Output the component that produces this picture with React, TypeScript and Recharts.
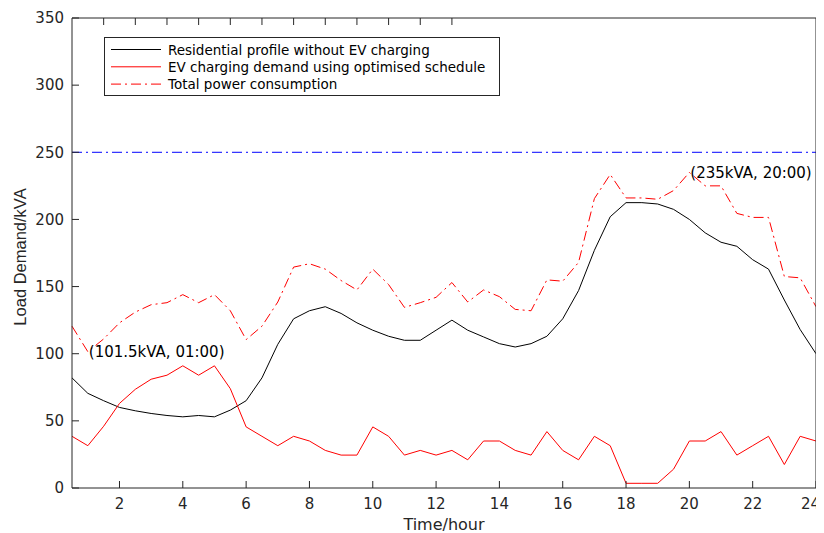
import React from "react";
import {
  LineChart,
  Line,
  XAxis,
  YAxis,
  ReferenceLine,
  ReferenceDot,
  Legend,
} from "recharts";

// half-hourly time stamps (hours)
const hours = [
  0.5, 1, 1.5, 2, 2.5, 3, 3.5, 4, 4.5, 5, 5.5, 6, 6.5, 7, 7.5, 8, 8.5, 9, 9.5, 10,
  10.5, 11, 11.5, 12, 12.5, 13, 13.5, 14, 14.5, 15, 15.5, 16, 16.5, 17, 17.5, 18,
  18.5, 19, 19.5, 20, 20.5, 21, 21.5, 22, 22.5, 23, 23.5, 24,
];

// residential profile without EV charging (kVA)
const residential = [
  82, 70.5, 65, 60, 57.5, 55.5, 54, 53, 54, 53, 58, 65, 82, 107, 126, 132, 135, 130,
  123, 117.5, 113, 110, 110, 117.5, 125, 117.5, 112.5, 107.5, 105, 107.5, 113, 126,
  147, 177, 202, 212.5, 212.5, 211.5, 207.5, 200, 190, 183, 180, 170, 163, 140, 118, 100,
];

// EV charging demand with the optimised schedule (kVA)
const evDemand = [
  38.5, 31.5, 46, 63, 73.5, 81, 84, 91, 84, 91, 74, 45.5, 38.5, 31.5, 38.5, 35, 28,
  24.5, 24.5, 45.5, 38.5, 24.5, 28, 24.5, 28, 21, 35, 35, 28, 24.5, 42, 28, 21, 38.5,
  31.5, 3.5, 3.5, 3.5, 14, 35, 35, 42, 24.5, 31.5, 38.5, 17.5, 38.5, 35,
];

// total power consumption (kVA)
const totalPower = [
  120.5, 101.5, 111, 123, 131, 136.5, 138, 144, 138, 144, 132, 110.5, 120.5, 138.5,
  164.5, 167, 163, 154.5, 147.5, 163, 151.5, 134.5, 138, 142, 153, 138.5, 147.5, 142.5,
  133, 132, 155, 154, 168, 215.5, 233.5, 216, 216, 215, 221.5, 235, 225, 225, 204.5,
  201.5, 201.5, 157.5, 156.5, 135,
];

const xTicks = [2, 4, 6, 8, 10, 12, 14, 16, 18, 20, 22, 24];
const yTicks = [0, 50, 100, 150, 200, 250, 300, 350];
const transformerLimit = 250;

const legendItems = [
  { name: "Residential profile without EV charging", color: "#000000", dash: undefined },
  { name: "EV charging demand using optimised schedule", color: "#ff0000", dash: undefined },
  { name: "Total power consumption", color: "#ff0000", dash: "10 4 2 4" },
];

const data = hours.map((h, i) => ({
  t: h,
  residential: residential[i],
  ev: evDemand[i],
  total: totalPower[i],
}));

const AX = "#262626";
const FONT = "'DejaVu Sans', sans-serif";

function LegendBox() {
  return (
    <svg width={396} height={59}>
      <rect x={0.5} y={0.5} width={395} height={58} fill="#fff" stroke={AX} strokeWidth={1} />
      {legendItems.map((it, i) => {
        const y = 12.5 + i * 17.3;
        return (
          <g key={it.name}>
            <line x1={7} x2={57} y1={y} y2={y} stroke={it.color} strokeDasharray={it.dash} strokeWidth={1} />
            <text x={64} y={y} dominantBaseline="central" fontSize={13.5} fontFamily={FONT} fill="#000">
              {it.name}
            </text>
          </g>
        );
      })}
    </svg>
  );
}

// bottom tick label; the last one sits against the right edge like the original
function XTick(props: any) {
  const { x, y, payload } = props;
  const last = payload.value === 24;
  return (
    <text
      x={last ? x + 4 : x}
      y={y}
      dy="0.71em"
      textAnchor={last ? "end" : "middle"}
      fill={AX}
      fontSize={15}
      fontFamily={FONT}
    >
      {payload.value}
    </text>
  );
}

export default function App() {
  return (
    <LineChart
      width={816}
      height={525}
      data={data}
      margin={{ top: 9, right: 7, left: 14, bottom: 5 }}
    >
      <XAxis
        dataKey="t"
        type="number"
        domain={[0.5, 24]}
        ticks={xTicks}
        interval={0}
        height={40}
        stroke={AX}
        tickSize={-7}
        tickMargin={17}
        tick={<XTick />}
        label={{
          value: "Time/hour",
          position: "insideBottom",
          offset: -2,
          fill: AX,
          fontSize: 16,
          fontFamily: FONT,
        }}
      />
      <XAxis
        xAxisId="top"
        orientation="top"
        type="number"
        domain={[0.5, 24]}
        ticks={xTicks}
        interval={0}
        height={1}
        stroke={AX}
        tickSize={-7}
        tickFormatter={() => ""}
      />
      <YAxis
        type="number"
        domain={[0, 350]}
        ticks={yTicks}
        interval={0}
        width={50}
        stroke={AX}
        tickSize={-7}
        tickMargin={15}
        tick={{ fill: AX, fontSize: 15, fontFamily: FONT }}
        label={{
          value: "Load Demand/kVA",
          angle: -90,
          position: "center",
          dx: -27,
          dy: 4,
          fill: AX,
          fontSize: 16.5,
          fontFamily: "'Liberation Sans', Arial, sans-serif",
        }}
      />
      <YAxis
        yAxisId="right"
        orientation="right"
        type="number"
        domain={[0, 350]}
        ticks={yTicks}
        interval={0}
        width={1}
        stroke={AX}
        tickSize={-7}
        tickFormatter={() => ""}
      />
      <Legend
        layout="vertical"
        align="center"
        verticalAlign="middle"
        wrapperStyle={{ left: 96, top: 29, width: 396, height: 59 }}
        content={() => <LegendBox />}
      />
      <ReferenceLine
        y={transformerLimit}
        stroke="#0000ff"
        strokeWidth={1}
        strokeDasharray="10 4 2 4"
      />
      <Line
        dataKey="residential"
        type="linear"
        stroke="#000000"
        strokeWidth={1}
        dot={false}
        isAnimationActive={false}
      />
      <Line
        dataKey="ev"
        type="linear"
        stroke="#ff0000"
        strokeWidth={1}
        dot={false}
        isAnimationActive={false}
      />
      <Line
        dataKey="total"
        type="linear"
        stroke="#ff0000"
        strokeWidth={1}
        strokeDasharray="10 4 2 4"
        dot={false}
        isAnimationActive={false}
      />
      <ReferenceDot
        x={1}
        y={101.5}
        r={0}
        fill="none"
        stroke="none"
        label={{
          value: "(101.5kVA, 01:00)",
          position: "right",
          offset: 1,
          fill: "#000",
          fontSize: 15,
          fontFamily: FONT,
        }}
      />
      <ReferenceDot
        x={20}
        y={235}
        r={0}
        fill="none"
        stroke="none"
        label={{
          value: "(235kVA, 20:00)",
          position: "right",
          offset: 1,
          fill: "#000",
          fontSize: 15,
          fontFamily: FONT,
        }}
      />
    </LineChart>
  );
}
